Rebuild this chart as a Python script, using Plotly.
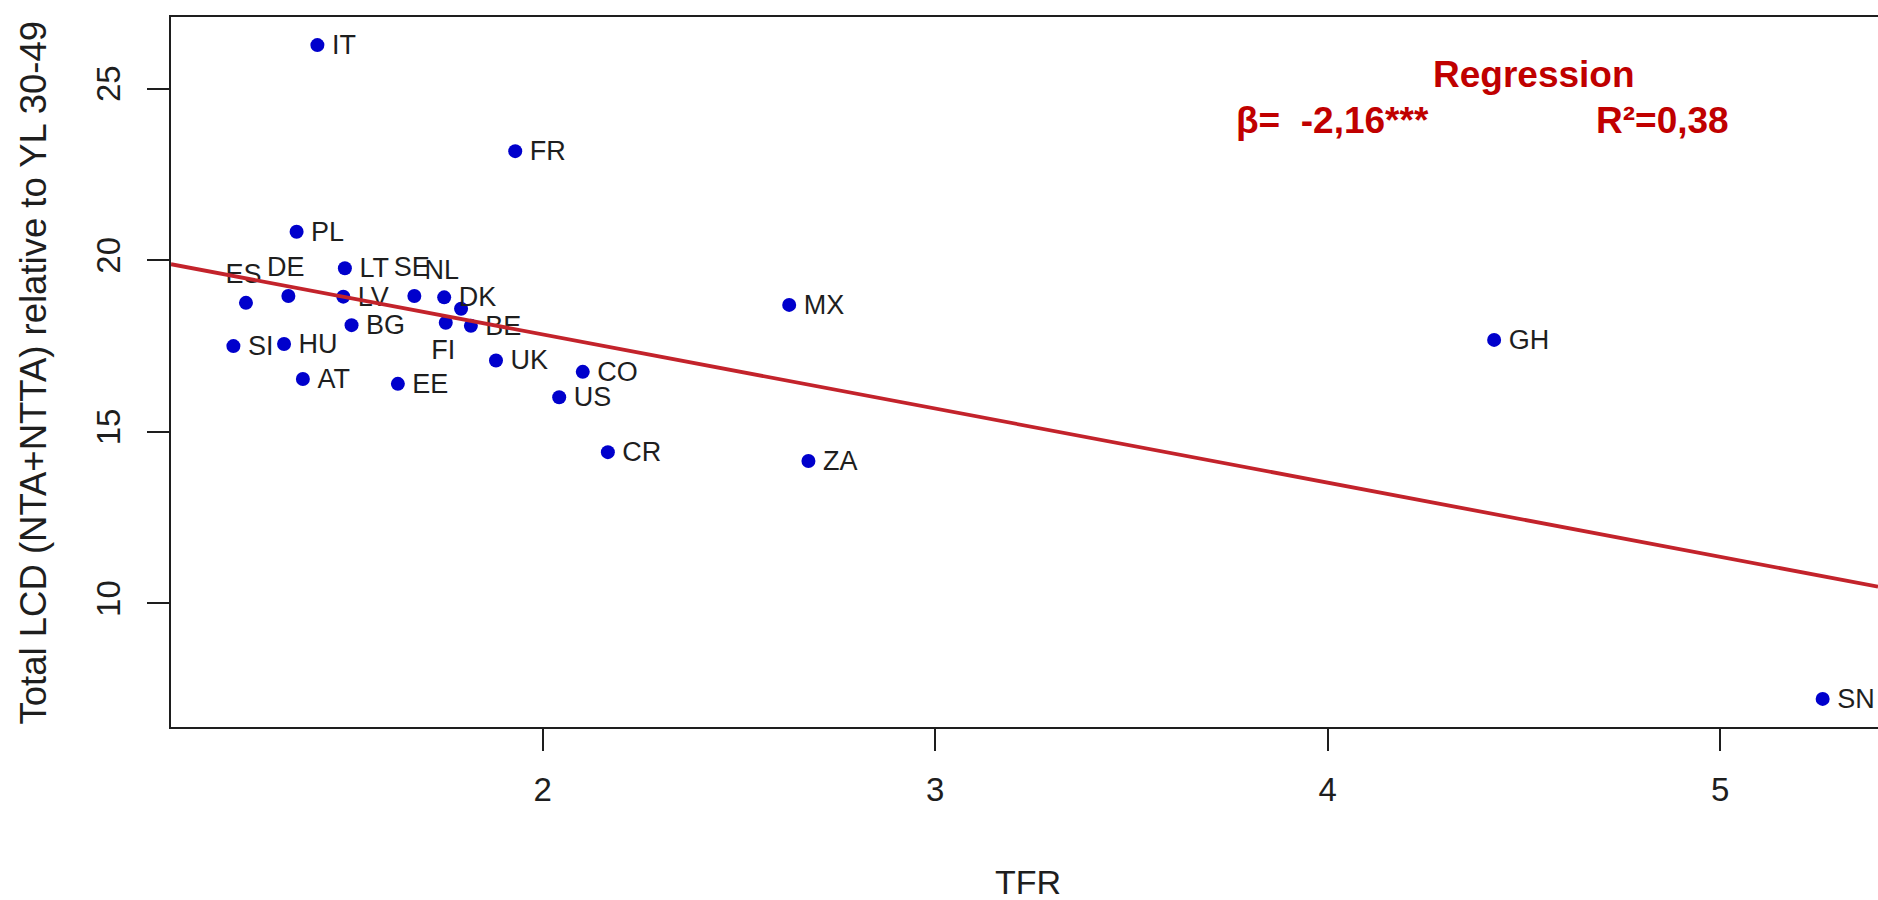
import plotly.graph_objects as go

# ---------------- data ----------------
COUNTRIES = ["IT", "FR", "PL", "LT", "ES", "DE", "LV", "SE", "DK", "NL", "FI", "BE", "BG",
             "SI", "HU", "AT", "EE", "UK", "CO", "US", "CR", "MX", "ZA", "GH", "SN"]
TFR = [1.426, 1.930, 1.373, 1.496, 1.244, 1.352, 1.492, 1.673, 1.749, 1.792, 1.753, 1.817, 1.513,
       1.212, 1.341, 1.389, 1.631, 1.881, 2.102, 2.042, 2.166, 2.628, 2.677, 4.424, 5.261]
LCD = [26.27, 23.18, 20.83, 19.77, 18.76, 18.96, 18.94, 18.96, 18.92, 18.59, 18.18, 18.09, 18.11,
       17.50, 17.56, 16.54, 16.40, 17.08, 16.75, 16.01, 14.41, 18.70, 14.15, 17.68, 7.22]
INTERCEPT = 22.16
SLOPE = -2.16
X_TICKS = [2, 3, 4, 5]
Y_TICKS = [10, 15, 20, 25]
X_TITLE = "TFR"
Y_TITLE = "Total LCD (NTA+NTTA) relative to YL 30-49"
REG_TITLE = "Regression"
REG_BETA = "β=\u00a0\u00a0-2,16***"
REG_R2 = "R²=0,38"

# ---------------- layout / style ----------------
W, H = 1878, 900
ML, MR, MT, MB = 171, 0, 17, 173
X_RANGE = [1.053, 5.402]
Y_RANGE = [6.401, 27.089]
PLOT_W = W - ML - MR
PLOT_H = H - MT - MB
PXX = PLOT_W / (X_RANGE[1] - X_RANGE[0])
PXY = PLOT_H / (Y_RANGE[1] - Y_RANGE[0])

FONT = "Liberation Sans, Arial, sans-serif"
LBL_SIZE = 27
INK = "#1e1e1e"
POINT_COLOR = "#0000CC"
LINE_COLOR = "#C3232B"
TEXT_RED = "#C00000"

# label placement: (textposition, dx px, dy px downwards)
PLACE_DEFAULT = ("middle right", 14.5, 2.2)
PLACE = {
    "ES": ("middle center", -2.5, -26.5),
    "DE": ("middle center", -2.5, -26.5),
    "SE": ("middle center", -2.5, -26.5),
    "NL": ("middle center", -19.3, -36.8),
    "FI": ("middle center", -2.4, 29.0),
}

lx, ly, lpos = [], [], []
for c, x, y in zip(COUNTRIES, TFR, LCD):
    pos, dx, dy = PLACE.get(c, PLACE_DEFAULT)
    lx.append(x + dx / PXX)
    ly.append(y - dy / PXY)
    lpos.append(pos)

fig = go.Figure()
fig.add_trace(go.Scatter(
    x=TFR, y=LCD, mode="markers",
    marker=dict(color=POINT_COLOR, size=14, line=dict(width=0)),
    hoverinfo="skip",
))
fig.add_trace(go.Scatter(
    x=lx, y=ly, mode="text", text=COUNTRIES, textposition=lpos,
    textfont=dict(family=FONT, size=LBL_SIZE, color=INK),
    cliponaxis=False, hoverinfo="skip",
))
fig.add_trace(go.Scatter(
    x=X_RANGE, y=[INTERCEPT + SLOPE * v for v in X_RANGE], mode="lines",
    line=dict(color=LINE_COLOR, width=3.8), hoverinfo="skip",
))

fig.update_layout(
    width=W, height=H, autosize=False,
    margin=dict(l=ML, r=MR, t=MT, b=MB, pad=0),
    paper_bgcolor="white", plot_bgcolor="white",
    showlegend=False,
    font=dict(family=FONT, color=INK),
    xaxis=dict(
        range=X_RANGE, tickvals=X_TICKS, ticktext=[str(v) for v in X_TICKS],
        ticks="outside", ticklen=22, tickwidth=1.5, tickcolor=INK,
        showline=True, linecolor=INK, linewidth=2, mirror=True,
        showgrid=False, zeroline=False,
        tickfont=dict(family=FONT, size=33, color=INK),
        ticklabelstandoff=10,
    ),
    yaxis=dict(
        range=Y_RANGE, tickvals=Y_TICKS, ticktext=[str(v) for v in Y_TICKS],
        ticks="outside", ticklen=22, tickwidth=1.5, tickcolor=INK,
        showline=True, linecolor=INK, linewidth=2, mirror=False,
        showgrid=False, zeroline=False, tickangle=-90,
        tickfont=dict(family=FONT, size=33, color=INK),
        ticklabelstandoff=14,
    ),
    annotations=[
        dict(text=X_TITLE, xref="paper", yref="paper",
             x=(1027.5 - ML) / PLOT_W, y=-(881.7 - (H - MB)) / PLOT_H,
             xanchor="center", yanchor="middle", showarrow=False,
             font=dict(family=FONT, size=34, color=INK)),
        dict(text=Y_TITLE, xref="paper", yref="paper", textangle=-90,
             x=(33 - ML) / PLOT_W, y=((H - MB) - 372.5) / PLOT_H,
             xanchor="center", yanchor="middle", showarrow=False,
             font=dict(family=FONT, size=36.5, color=INK)),
        dict(text="<b>%s</b>" % REG_TITLE, xref="x", yref="y", x=4.525, y=25.40,
             xanchor="center", yanchor="middle", showarrow=False,
             font=dict(family=FONT, size=37, color=TEXT_RED)),
        dict(text="<b>%s</b>" % REG_BETA, xref="x", yref="y", x=4.013, y=24.06,
             xanchor="center", yanchor="middle", showarrow=False,
             font=dict(family=FONT, size=37, color=TEXT_RED)),
        dict(text="<b>%s</b>" % REG_R2, xref="x", yref="y", x=4.852, y=24.06,
             xanchor="center", yanchor="middle", showarrow=False,
             font=dict(family=FONT, size=37, color=TEXT_RED)),
    ],
)

fig.write_html("out.html")
